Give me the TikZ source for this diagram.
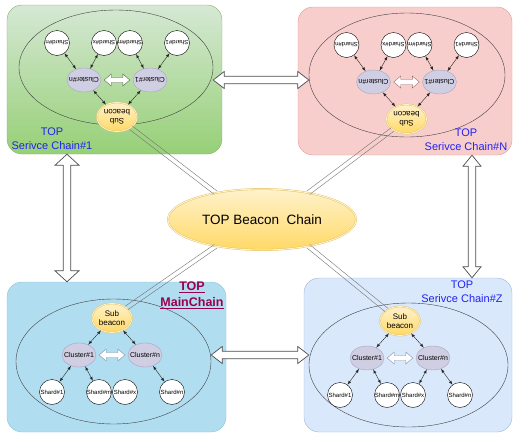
\documentclass[tikz,border=0pt]{standalone}
\usepackage{fontspec}
\setmainfont{Liberation Sans}
\usepackage{tikz}
\tikzset{>=latex}
\usetikzlibrary{shapes.geometric,calc}
\usepackage{xcolor}
\definecolor{greentop}{HTML}{D5E8D4}
\definecolor{greenbot}{HTML}{97D077}
\definecolor{greenline}{HTML}{82B366}
\definecolor{pinkfill}{HTML}{F8CECC}
\definecolor{pinkline}{HTML}{DD9A96}
\definecolor{mainfill}{HTML}{B1DDF0}
\definecolor{mainline}{HTML}{8CC3DD}
\definecolor{zfill}{HTML}{DAE8FC}
\definecolor{zline}{HTML}{9DB5DA}
\definecolor{beacontop}{HTML}{FFF2CC}
\definecolor{beaconbot}{HTML}{FFD966}
\definecolor{beaconline}{HTML}{E0C061}
\definecolor{clusterfill}{HTML}{D0CEE2}
\definecolor{clusterline}{HTML}{A7A4C4}
\definecolor{chainblue}{HTML}{2222F2}
\definecolor{mainred}{HTML}{99004D}
\colorlet{arrowline}{black!70}

\tikzstyle{panel}=[rectangle,rounded corners=15,thin]
\tikzstyle{chain}=[ellipse,draw=black!75,thin]
\tikzstyle{shard}=[circle,draw,fill=white,minimum size=25,inner sep=0,font=\fontsize{6}{6}\selectfont]
\tikzstyle{cluster}=[ellipse,draw=clusterline,fill=clusterfill,minimum width=34,minimum height=24,inner xsep=-3.5,inner ysep=0,font=\fontsize{7}{7}\selectfont]
\tikzstyle{subbeacon}=[ellipse,draw=beaconline,double=beacontop,double distance=0.8,top color=beacontop,bottom color=beaconbot,minimum width=40,minimum height=29,inner sep=0,align=center,font=\fontsize{8}{9}\selectfont]
\tikzstyle{beacon}=[ellipse,draw=beaconline,double=beacontop,double distance=1,top color=beacontop,bottom color=beaconbot,minimum width=188,minimum height=61,font=\fontsize{13.5}{16}\selectfont]
\tikzstyle{link}=[<->,black!85,thin]
\tikzstyle{chainlabel}=[align=center,text=chainblue,font=\fontsize{11}{14}\selectfont]

% hollow double arrow: head length, head half width, shaft half width
\newcommand\blockto[3]{let \p1=(\tikztostart),\p2=(\tikztotarget),
  \n1={atan2(\y2-\y1,\x2-\x1)},\n2={veclen(\x2-\x1,\y2-\y1)} in
  {[shift={(\p1)},rotate=\n1] (0,0) -- (#1,#2) -- (#1,#3) -- (\n2-#1,#3) -- (\n2-#1,#2) -- (\n2,0)
   -- (\n2-#1,-#2) -- (\n2-#1,-#3) -- (#1,-#3) -- (#1,-#2) -- cycle}}
\tikzset{bigarrow/.style={draw=arrowline,fill=white,line width=0.7,to path={\blockto{11}{#1}{3.8}}},
  bigarrow/.default=8.5}
\tikzstyle{smallarrow}=[fill=white,thin,to path={\blockto{7}{6}{2.5}}]
\tikzstyle{tether}=[draw=black!55,thin,to path={let \p1=(\tikztostart),\p2=(\tikztotarget),
  \n1={atan2(\y2-\y1,\x2-\x1)} in
  ([shift={(\n1+90:2.2pt)}]\p1) -- ([shift={(\n1+90:2.2pt)}]\p2)
  ([shift={(\n1-90:2.2pt)}]\p1) -- ([shift={(\n1-90:2.2pt)}]\p2)}]

% one chain: name, centre of the cluster row, angle, colour of the small arrow
\newcommand\chaingroup[4]{%
  \begin{scope}[shift={(#2)},rotate=#3,transform shape]
    \node[subbeacon] (#1sub) at (0,-37) {Sub\\beacon};
    \node[cluster] (#1c1) at (-33,0) {Cluster\#1};
    \node[cluster] (#1cn) at (33,0) {Cluster\#n};
    \node[shard] (#1s1) at (-60,37) {Shard\#1};
    \node[shard] (#1sm) at (-13,37) {Shard\#m};
    \node[shard] (#1sx) at (13,37) {Shard\#x};
    \node[shard] (#1sn) at (60,37) {Shard\#n};
  \end{scope}
  \draw[link] (#1sub) -- (#1c1);
  \draw[link] (#1sub) -- (#1cn);
  \draw[link] (#1c1) -- (#1s1);
  \draw[link] (#1c1) -- (#1sm);
  \draw[link] (#1cn) -- (#1sn);
  \coordinate (#1a) at ($(#1c1.east)!3pt!(#1cn.west)$);
  \coordinate (#1b) at ($(#1cn.west)!3pt!(#1c1.east)$);
  \draw[smallarrow,draw=#4] (#1a) to (#1b);
}

\begin{document}
\begin{tikzpicture}[x=1pt,y=-1pt]
  \useasboundingbox (0,0) rectangle (520,437);

  % PANELS
  \node[panel,draw=greenline,top color=greentop,bottom color=greenbot,minimum width=215,minimum height=149] (gPanel) at (114.5,79.5) {};
  \node[panel,draw=pinkline,fill=pinkfill,minimum width=214,minimum height=148] (pPanel) at (405,81) {};
  \node[panel,draw=mainline,fill=mainfill,minimum width=219,minimum height=150] (mPanel) at (116.5,357) {};
  \node[panel,draw=zline,fill=zfill,minimum width=208,minimum height=154] (zPanel) at (408,355) {};

  % CHAIN RINGS
  \node[chain,minimum width=194,minimum height=115] (gEll) at (116,67.5) {};
  \node[chain,minimum width=196,minimum height=124] (pEll) at (407,75) {};
  \node[chain,minimum width=195,minimum height=125] (mEll) at (113.5,361.5) {};
  \node[chain,minimum width=199,minimum height=124] (zEll) at (408.5,365) {};

  % CLUSTER ROWS
  \coordinate (gmid) at (117,80);
  \coordinate (pmid) at (406.5,82);
  \coordinate (mmid) at (112,355);
  \coordinate (zmid) at (400,358);

  \chaingroup{g}{gmid}{180}{greenline!60!black}
  \chaingroup{p}{pmid}{180}{pinkline!70!black}
  \chaingroup{m}{mmid}{0}{zline!80!black}
  \chaingroup{z}{zmid}{0}{zline!80!black}
  \draw[link] (gcn) -- (gsx);
  \draw[link] (pcn) -- (psx);
  \draw[link] (zcn) -- (zsx);

  % LABELS
  \node[chainlabel] (gLabel) at (52,139) {TOP\\Serivce Chain\#1};
  \node[chainlabel] (pLabel) at (466,139.5) {TOP\\Serivce Chain\#N};
  \node[chainlabel] (zLabel) at (462,291.5) {TOP\\Serivce Chain\#Z};
  \node[align=center,text=mainred,font=\fontsize{12.5}{16}\selectfont\bfseries] (mLabel) at (192,295)
    {\underline{TOP}\\\underline{MainChain}};

  % BEACON
  \node[beacon] (beacon) at (262,219.5) {TOP Beacon\ \ Chain};
  \path (beacon.150) -- (gsub) coordinate[pos=1] (gT);
  \path (beacon.30) -- (psub) coordinate[pos=1] (pT);
  \path (beacon.210) -- (msub) coordinate[pos=1] (mT);
  \path (beacon.330) -- (zsub) coordinate[pos=1] (zT);
  \draw[tether] (beacon.150) to (gT);
  \draw[tether] (beacon.30) to (pT);
  \draw[tether] (beacon.210) to (mT);
  \draw[tether] (beacon.330) to (zT);

  % BIG ARROWS
  \coordinate (gR) at (gEll.east |- gmid);
  \coordinate (pL) at (pEll.west |- gmid);
  \coordinate (mR) at (mEll.east |- mmid);
  \coordinate (zL) at (zEll.west |- mmid);
  \coordinate (lx) at (67,0);
  \coordinate (rx) at (472,0);
  \draw[bigarrow] (gR) to (pL);
  \draw[bigarrow] (mR) to (zL);
  \draw[bigarrow=12] (gPanel.south -| lx) to (mPanel.north -| lx);
  \draw[bigarrow=9] (pPanel.south -| rx) to (zPanel.north -| rx);
\end{tikzpicture}
\end{document}
